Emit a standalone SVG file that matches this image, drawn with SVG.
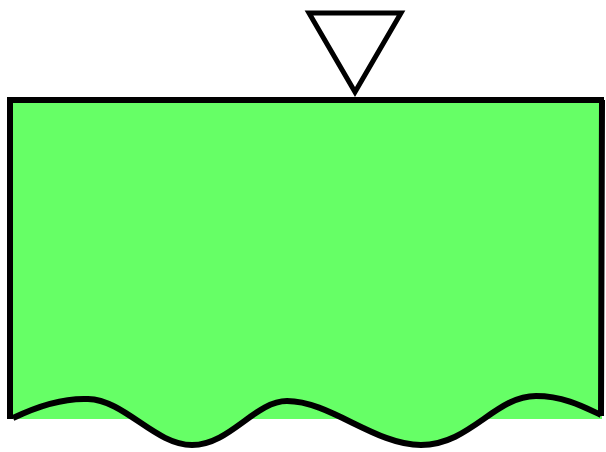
<svg xmlns="http://www.w3.org/2000/svg" width="606" height="452" viewBox="0 0 606 452">
<style>
.fill{fill:#66ff66;stroke:none}
.ln{fill:none;stroke:#000;stroke-width:6}
.tri{fill:#fff;stroke:#000;stroke-width:5}
</style>
<g id="document">
<rect class="fill" x="10" y="100" width="592" height="319"/>
<path class="fill" d="M13,418 C40,405 65,398 88,399 C125,400 155,445 192,445 C230,445 255,401 287,401 C330,401 375,445 421,445 C470,445 495,396 536,396 C565,396 586,408 601,415 L601,419 L13,419 Z"/>
<path class="ln" d="M10,419 L10,100 L604,100 M602,100 L601,416"/>
<path class="ln" d="M13,418 C40,405 65,398 88,399 C125,400 155,445 192,445 C230,445 255,401 287,401 C330,401 375,445 421,445 C470,445 495,396 536,396 C565,396 586,408 601,415"/>
</g>
<g id="marker">
<polygon class="tri" points="309,13 401,13 355,92"/>
</g>
</svg>
